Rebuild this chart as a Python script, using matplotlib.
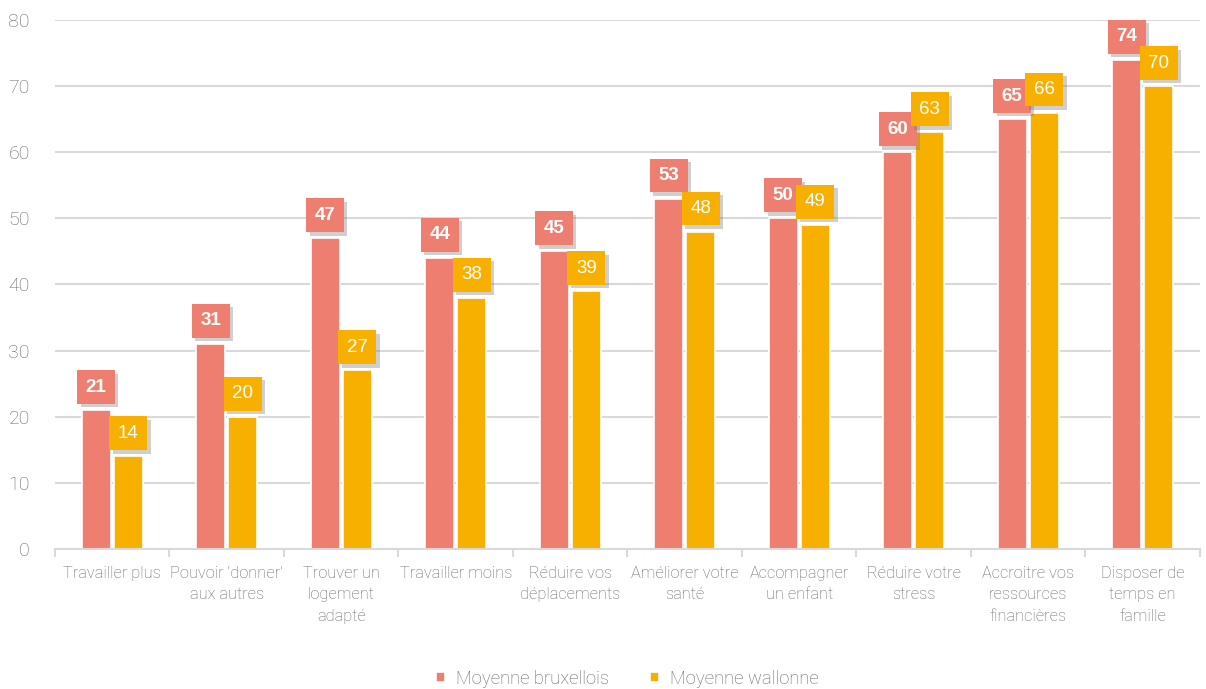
import numpy as np
import matplotlib
matplotlib.use("Agg")
import matplotlib.pyplot as plt
import matplotlib.patheffects as pe

categories = ["Travailler plus", "Pouvoir 'donner'\naux autres", "Trouver un\nlogement\nadapté",
              "Travailler moins", "Réduire vos\ndéplacements", "Améliorer votre\nsanté",
              "Accompagner\nun enfant", "Réduire votre\nstress", "Accroitre vos\nressources\nfinancières",
              "Disposer de\ntemps en\nfamille"]
bruxellois = [21, 31, 47, 44, 45, 53, 50, 60, 65, 74]
wallonne = [14, 20, 27, 38, 39, 48, 49, 63, 66, 70]
series_names = ["Moyenne bruxellois", "Moyenne wallonne"]

c_bxl = "#EE7E70"
c_wal = "#F8B000"
grey_txt = "#666666"
grid_col = "#d9d9d9"

fam = ["Roboto", "DejaVu Sans"]

fig = plt.figure(figsize=(12.06, 6.89), dpi=100)
ax = fig.add_axes([0.0456, 0.2032, 0.9494, 0.7678])

x = np.arange(len(categories))
w = 0.25
off = 0.14
ax.bar(x - off, bruxellois, w, color=c_bxl, edgecolor="white", linewidth=1.2,
       label=series_names[0], zorder=2)
ax.bar(x + off, wallonne, w, color=c_wal, edgecolor="white", linewidth=1.2,
       label=series_names[1], zorder=2)

shadow = [pe.SimplePatchShadow(offset=(2.5, -2.5), shadow_rgbFace="#777777", alpha=0.35), pe.Normal()]

def add_labels(xs, vals, color, weight, z):
    for xi, v in zip(xs, vals):
        t = ax.annotate(str(v), (xi, v), xytext=(0, 10.5), textcoords="offset points",
                        ha="center", va="bottom", color="white", fontsize=13.5,
                        fontweight=weight, family=["Liberation Sans", "DejaVu Sans"],
                        bbox=dict(boxstyle="square,pad=0.45", fc=color, ec="none"),
                        zorder=z)
        t.get_bbox_patch().set_path_effects(shadow)

add_labels(x - off, bruxellois, c_bxl, "bold", 5)
add_labels(x + off, wallonne, c_wal, "normal", 6)

ax.set_xlim(-0.5, len(categories) - 0.5)
ax.set_ylim(0, 80)
ax.set_yticks(range(0, 81, 10))
ax.yaxis.grid(True, color=grid_col, linewidth=1.5, zorder=0)
ax.set_axisbelow(True)

for s in ["top", "right", "left"]:
    ax.spines[s].set_visible(False)
ax.spines["bottom"].set_color(grid_col)
ax.spines["bottom"].set_linewidth(1.5)

ax.set_xticks(x)
ax.set_xticklabels(categories, family=fam, fontsize=11.8, fontweight="light",
                   color=grey_txt, linespacing=1.55)
ax.tick_params(axis="x", which="major", length=0, pad=12)
ax.set_xticks(np.arange(-0.5, len(categories), 1), minor=True)
ax.tick_params(axis="x", which="minor", length=6, color=grid_col, width=1.5)
ax.tick_params(axis="y", length=0, pad=18, labelsize=14, labelcolor=grey_txt)
for lab in ax.get_yticklabels():
    lab.set_family(fam)
    lab.set_fontweight("light")

leg = ax.legend(loc="center", bbox_to_anchor=(0.5, -0.245), ncol=2, frameon=False,
                prop={"family": fam, "size": 13.3, "weight": "light"},
                handlelength=0.5, handleheight=0.5,
                handletextpad=0.6, columnspacing=2.2)
for t in leg.get_texts():
    t.set_color(grey_txt)

fig.savefig("out.png", dpi=100)
